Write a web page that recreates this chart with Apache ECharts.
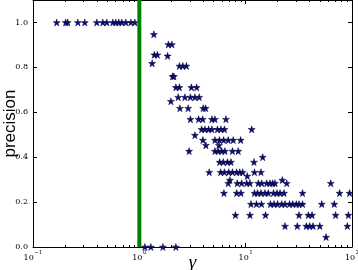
<!DOCTYPE html>
<html><head><meta charset="utf-8">
<script src="https://cdn.jsdelivr.net/npm/echarts@6/dist/echarts.min.js"></script>
<style>html,body{margin:0;padding:0;background:#fff}#c{width:358px;height:270px}</style>
</head><body><div id="c"></div>
<script>
// precision level of each row of points, and the gamma values found at that level
const precisionLevels = [1.0, 0.947, 0.902, 0.856, 0.851, 0.818, 0.806, 0.76, 0.711, 0.667, 0.649, 0.618, 0.569, 0.524, 0.498, 0.476, 0.453, 0.427, 0.40, 0.378, 0.333, 0.316, 0.298, 0.284, 0.24, 0.191, 0.142, 0.093, 0.044, 0.0];
const gammaByLevel = [
  [0.167,0.203,0.212,0.264,0.307,0.398,0.453,0.494,0.563,0.601,0.641,0.684,0.746,0.832,0.907],
  [1.369],
  [1.875,2.023],
  [1.384,1.477],
  [1.844],
  [1.320],
  [2.381,2.568,2.771],
  [2.053,2.113],
  [2.207,2.381,3.087,3.456],
  [2.319,2.682,3.021,3.332,3.657],
  [1.981],
  [2.407,2.881,3.988,4.201],
  [3.021,3.610,3.945,4.816,5.139,6.524],
  [3.852,4.138,4.484,4.816,5.426,5.853,6.315,11.39],
  [3.332],
  [3.962,5.139,5.666,6.206,6.857,7.641,8.971],
  [4.228,5.605],
  [2.938,5.139,5.521,5.943,6.384,7.510,8.516],
  [14.46],
  [5.691,6.153,6.739,7.270,11.97],
  [4.543,5.816,6.315,6.933,7.510,8.226,8.797,9.370,12.10,13.93],
  [10.35],
  [7.114,22.11],
  [6.857,8.334,9.170,10.22,10.98,13.14,14.15,15.76,16.93,17.96,18.87,24.32,63.15],
  [6.247,8.226,9.031,12.10,12.92,13.93,15.19,16.32,18.27,19.71,21.04,22.94,34.26,76.40,94.93],
  [11.22,12.64,14.09,17.12,18.47,19.93,21.83,23.44,25.85,27.70,29.95,31.76,34.26,51.96,68.14],
  [8.015,10.98,15.36,31.76,38.85,42.10,70.08,92.48],
  [23.44,30.61,37.21,40.05,43.02,49.76,90.50],
  [57.03],
  [1.127,1.283,1.665,2.206]
];
const thresholdGamma = 1;
const xMin = 0.1, xMax = 100;
const yMin = 0, yMax = 1.1, yStep = 0.2;
const minorTickValues = [0.2,0.3,0.4,0.5,0.6,0.7,0.8,0.9,2,3,4,5,6,7,8,9,20,30,40,50,60,70,80,90];

const points = [];
precisionLevels.forEach((p, i) => gammaByLevel[i].forEach(g => points.push([g, p])));

const STAR = 'path://M100,0 L122.45,69.1 L195.1,69.1 L136.3,111.8 L158.8,180.9 L100,138.2 L41.2,180.9 L63.7,111.8 L4.9,69.1 L77.55,69.1 Z';
const serif = 'DejaVu Serif';

function expLabel(v) {
  const e = Math.round(Math.log10(v));
  return '{b|10}{s|' + (e < 0 ? '\u2212' + (-e) : e) + '}';
}
const richLab = {
  b: {fontSize: 8, fontFamily: serif, color: '#000', lineHeight: 12, verticalAlign: 'bottom'},
  s: {fontSize: 5.5, fontFamily: serif, color: '#000', lineHeight: 12, verticalAlign: 'top', padding: [0,0,0,0.5]}
};
const baseX = {type: 'log', logBase: 10, min: xMin, max: xMax, splitLine: {show: false}};
const baseY = {type: 'value', min: yMin, max: yMax, interval: yStep, splitLine: {show: false}};

const chart = echarts.init(document.getElementById('c'), null, {renderer: 'canvas'});
chart.setOption({
  animation: false,
  backgroundColor: '#fff',
  grid: {left: 33, right: 6, top: 0, bottom: 23, containLabel: false, outerBoundsMode: 'none'},
  xAxis: [
    Object.assign({}, baseX, {
      position: 'bottom',
      axisLine: {show: true, lineStyle: {color: '#000', width: 1}},
      axisTick: {show: true, inside: true, length: 4, lineStyle: {color: '#000'}},
      axisLabel: {formatter: expLabel, rich: richLab, margin: 3},
      name: '\u03b3', nameLocation: 'middle', nameGap: 6, nameMoveOverlap: false,
      nameTextStyle: {fontFamily: 'Liberation Serif', fontStyle: 'italic', fontSize: 19, color: '#000'}
    }),
    Object.assign({}, baseX, {
      position: 'bottom',
      axisLine: {show: false}, axisLabel: {show: false},
      axisTick: {show: true, inside: true, length: 2, customValues: minorTickValues, lineStyle: {color: '#000'}}
    }),
    Object.assign({}, baseX, {
      position: 'top',
      axisLine: {show: true, lineStyle: {color: '#000', width: 1}},
      axisLabel: {show: false},
      axisTick: {show: true, inside: true, length: 4, lineStyle: {color: '#000'}}
    }),
    Object.assign({}, baseX, {
      position: 'top',
      axisLine: {show: false}, axisLabel: {show: false},
      axisTick: {show: true, inside: true, length: 2, customValues: minorTickValues, lineStyle: {color: '#000'}}
    })
  ],
  yAxis: [
    Object.assign({}, baseY, {
      position: 'left',
      axisLine: {show: true, lineStyle: {color: '#000', width: 1}},
      axisTick: {show: true, inside: true, length: 4, lineStyle: {color: '#000'}},
      axisLabel: {formatter: v => v.toFixed(1), fontSize: 8, fontFamily: serif, color: '#000', margin: 5, showMaxLabel: false},
      name: 'precision', nameLocation: 'middle', nameGap: 14, nameMoveOverlap: false,
      nameTextStyle: {fontFamily: 'Liberation Sans', fontSize: 17, color: '#000'}
    }),
    Object.assign({}, baseY, {
      position: 'right',
      axisLine: {show: true, lineStyle: {color: '#000', width: 1}},
      axisTick: {show: true, inside: true, length: 4, lineStyle: {color: '#000'}},
      axisLabel: {show: false}
    })
  ],
  series: [
    {
      type: 'scatter', xAxisIndex: 0, yAxisIndex: 0, data: points,
      symbol: STAR, symbolSize: 7, clip: true,
      itemStyle: {color: '#0b0b7a', borderColor: '#000030', borderWidth: 0.5, opacity: 1},
      z: 2
    },
    {
      type: 'line', xAxisIndex: 0, yAxisIndex: 0,
      data: [[thresholdGamma, yMin], [thresholdGamma, yMax]],
      symbol: 'none', lineStyle: {color: '#008000', width: 4}, z: 3, clip: true
    }
  ]
});
</script>
</body></html>
